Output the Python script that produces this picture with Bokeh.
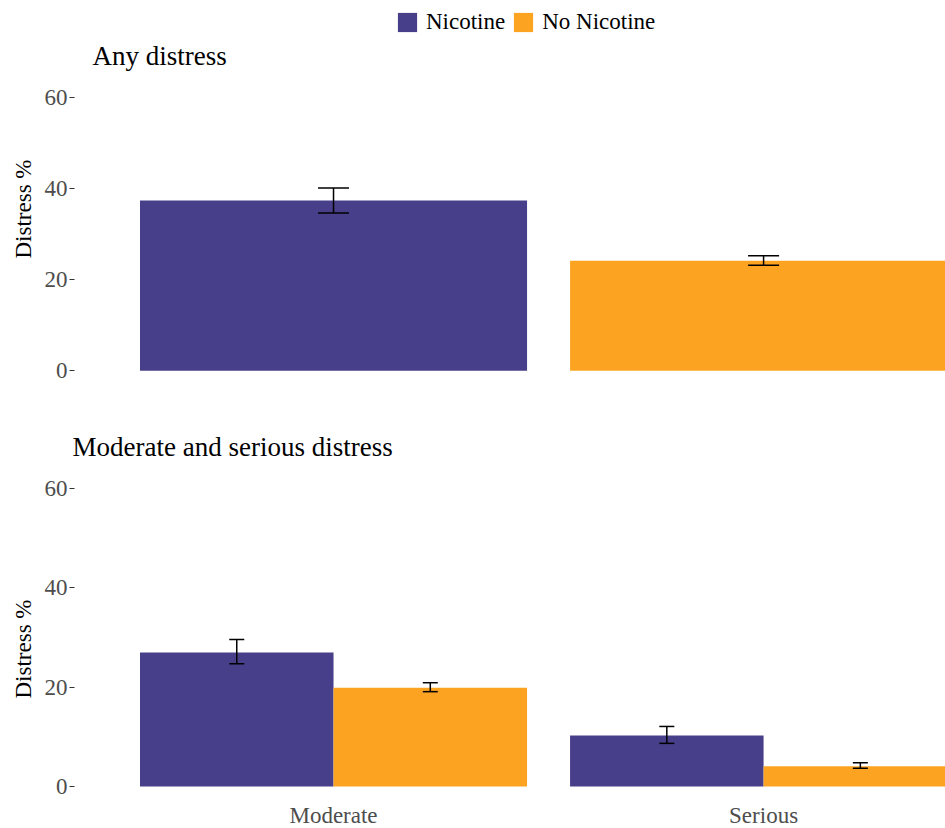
from bokeh.plotting import figure
from bokeh.models import (Range1d, Title, Legend, LegendItem, ColumnDataSource,
                          FixedTicker, Whisker, TeeHead, Label)
from bokeh.layouts import column
from bokeh.transform import dodge
from bokeh.embed import file_html
from bokeh.resources import INLINE

# ---- data ----
groups = ["Nicotine", "No Nicotine"]
colors = ["#473F8A", "#FCA422"]

any_values = [37.4, 24.2]
any_lower = [34.7, 23.2]
any_upper = [40.2, 25.3]

levels = ["Moderate", "Serious"]
nic_values = [27.0, 10.3]
nic_lower = [24.7, 8.7]
nic_upper = [29.6, 12.1]
nonic_values = [19.9, 4.1]
nonic_lower = [19.1, 3.7]
nonic_upper = [20.9, 4.8]

y_ticks = [0, 20, 40, 60]
panel_titles = ["Any distress", "Moderate and serious distress"]
y_label = "Distress %"

FONT = "Liberation Serif"
TICK_COLOR = "#4D4D4D"
X_RANGE = (0.3977, 2.423)


def style_y(p):
    ax = p.yaxis[0]
    ax.ticker = FixedTicker(ticks=y_ticks)
    ax.axis_line_color = None
    ax.major_tick_line_color = "#333333"
    ax.major_tick_line_width = 1
    ax.major_tick_out = 5
    ax.major_tick_in = 0
    ax.minor_tick_line_color = None
    ax.major_label_standoff = 2
    ax.major_label_text_font = FONT
    ax.major_label_text_font_size = "23px"
    ax.major_label_text_color = TICK_COLOR
    p.grid.visible = False
    p.outline_line_color = None
    p.background_fill_color = "white"
    p.border_fill_color = "white"


def tee(size):
    return TeeHead(size=size, line_color="black", line_width=1.5)


def whisker(**kw):
    return Whisker(line_color="black", line_width=1.5, level="overlay", **kw)


def ylabel_title(offset):
    return Title(text=y_label, align="left", offset=offset,
                 vertical_align="bottom", standoff=12,
                 text_font=FONT, text_font_size="23px",
                 text_font_style="normal", text_color="black")


# ---- top panel (frame runs to the top edge so legend/title fit inside) ----
top = figure(width=945, frame_height=384,
             x_range=Range1d(*X_RANGE), y_range=Range1d(-3, 81.37),
             output_backend="svg", toolbar_location=None, title=None,
             min_border_left=74, min_border_right=0, min_border_top=0,
             min_border_bottom=30)
style_y(top)
top.xaxis.visible = False

src_top = ColumnDataSource(dict(
    x=[i + 1 for i in range(len(groups))], group=groups, value=any_values,
    lower=any_lower, upper=any_upper, color=colors))
r_top = top.vbar(x="x", top="value", bottom=0, width=0.9, fill_color="color",
                 line_color=None, source=src_top)
top.add_layout(whisker(base="x", upper="upper", lower="lower", source=src_top,
                       upper_head=tee(31), lower_head=tee(31)))

top.add_layout(Label(text=panel_titles[0], x=18, y=329, x_units="screen",
                     y_units="screen", text_baseline="alphabetic",
                     text_font=FONT, text_font_size="27px",
                     text_color="black"))
top.add_layout(ylabel_title(126), "left")

legend = Legend(items=[LegendItem(label=g, renderers=[r_top], index=i)
                       for i, g in enumerate(groups)],
                orientation="horizontal", location=(321, 349),
                glyph_width=24, glyph_height=24, label_standoff=7,
                spacing=6, padding=0, margin=0,
                label_text_font=FONT, label_text_font_size="23px",
                label_text_color="black", border_line_color=None,
                background_fill_alpha=0)
top.add_layout(legend, "center")

# ---- bottom panel ----
bot = figure(width=945, frame_height=328,
             x_range=Range1d(*X_RANGE), y_range=Range1d(-3, 63),
             output_backend="svg", toolbar_location=None, title=None,
             min_border_left=74, min_border_right=0, min_border_top=59,
             min_border_bottom=27)
style_y(bot)

src_bot = ColumnDataSource(dict(
    x=[i + 1 for i in range(len(levels))], level=levels,
    nic=nic_values, nic_lo=nic_lower, nic_hi=nic_upper,
    nonic=nonic_values, nonic_lo=nonic_lower, nonic_hi=nonic_upper))

bot.vbar(x=dodge("x", -0.225), top="nic", bottom=0, width=0.45,
         fill_color=colors[0], line_color=None, source=src_bot)
bot.vbar(x=dodge("x", 0.225), top="nonic", bottom=0, width=0.45,
         fill_color=colors[1], line_color=None, source=src_bot)
bot.add_layout(whisker(base=dodge("x", -0.225), upper="nic_hi", lower="nic_lo",
                       source=src_bot, upper_head=tee(15), lower_head=tee(15)))
bot.add_layout(whisker(base=dodge("x", 0.225), upper="nonic_hi", lower="nonic_lo",
                       source=src_bot, upper_head=tee(15), lower_head=tee(15)))

xa = bot.xaxis[0]
xa.ticker = FixedTicker(ticks=src_bot.data["x"])
xa.major_label_overrides = {x: lv for x, lv in zip(src_bot.data["x"], levels)}
xa.axis_line_color = None
xa.major_tick_line_color = None
xa.minor_tick_line_color = None
xa.major_tick_out = 0
xa.major_tick_in = 0
xa.major_label_standoff = 1
xa.major_label_text_font = FONT
xa.major_label_text_font_size = "23px"
xa.major_label_text_color = TICK_COLOR

bot.add_layout(Title(text=panel_titles[1], align="left", offset=-2,
                     vertical_align="bottom", standoff=24,
                     text_font=FONT, text_font_size="27px",
                     text_font_style="normal", text_color="black"), "above")
bot.add_layout(ylabel_title(103), "left")

layout = column(top, bot, spacing=0)
open("out.html", "w").write(file_html(layout, INLINE))
